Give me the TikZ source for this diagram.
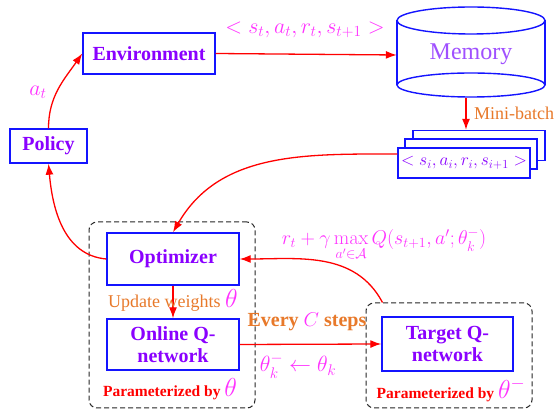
\RequirePackage{fix-cm}
\documentclass[tikz,border=0pt]{standalone}
\usepackage{amsmath}
\usepackage[no-math]{fontspec}
\setmainfont{Liberation Serif}
\usetikzlibrary{arrows.meta,calc}
\definecolor{boxblue}{RGB}{20,20,255}
\definecolor{txtpurple}{RGB}{138,0,255}
\definecolor{mempurple}{RGB}{160,80,255}
\definecolor{mag}{RGB}{255,50,255}
\definecolor{org}{RGB}{232,121,42}
\tikzset{
  blk/.style={draw=boxblue, line width=1.4pt, text=txtpurple, font=\fontsize{20}{22}\selectfont\bfseries, align=center, inner sep=0pt},
  stk/.style={draw=boxblue, fill=white, line width=1.4pt, minimum width=132pt, minimum height=30pt, inner sep=0pt},
  arr/.style={draw=red, line width=1.3pt, -{Latex[length=11pt,width=8pt]}},
  grp/.style={draw=black!85, dash pattern=on 5pt off 3pt, line width=1pt, rounded corners=8pt, inner sep=0pt},
  maglbl/.style={text=mag, inner sep=0pt},
}
\begin{document}
\begin{tikzpicture}[x=1pt,y=-1pt]
\useasboundingbox (0,0) rectangle (558,411);
\fill[white] (0,0) rectangle (558,411);

% group boxes
\node[grp, minimum width=166pt, minimum height=186pt] (g1) at (172,315) {};
\node[grp, minimum width=166pt, minimum height=105pt] (g2) at (449,355.5) {};

% main blocks
\node[blk, minimum width=132pt, minimum height=41pt] (env) at (149,53.5) {Environment};
\node[blk, minimum width=77pt, minimum height=34pt] (policy) at (48.5,146) {Policy};
\node[blk, minimum width=132pt, minimum height=52pt] (opt) at (173,259) {Optimizer};
\node[blk, minimum width=132pt, minimum height=51pt] (online) at (173,344.5) {Online Q-\\network};
\node[blk, minimum width=131pt, minimum height=54pt] (target) at (447.5,344) {Target Q-\\network};

% memory cylinder
\node[minimum width=148pt, minimum height=88pt, inner sep=0pt, text=mempurple, font=\fontsize{24}{26}\selectfont] (mem) at (471,54) {Memory};
\draw[boxblue, line width=1.4pt] (471,20.5) ellipse [x radius=74, y radius=13.5];
\draw[boxblue, line width=1.4pt] (471,85) ellipse [x radius=74, y radius=12];
\draw[boxblue, line width=1.4pt] (397,20.5) -- (397,85) (545,20.5) -- (545,85);

% mini-batch stack
\node[stk] (b3) at (479,145.5) {};
\node[stk] (b2) at (471,154) {};
\node[stk, text=txtpurple, font=\fontsize{17.5}{19}\selectfont] (b1) at (464,163) {$<s_i,a_i,r_i,s_{i+1}>$};

% arrows
\draw[arr] (env.east) -- ([yshift=-1pt]mem.west);
\draw[arr] ([xshift=-5pt]mem.south) -- ([xshift=-5pt]mem.south |- b3.north);
\draw[arr] ([yshift=9pt]b1.west) to[out=180,in=60] (opt.north);
\draw[arr] (opt.west) to[out=175,in=-85] (policy.south);
\draw[arr] (policy.north) to[out=90,in=235] (env.west);
\draw[arr] (opt.south) -- (online.north);
\draw[arr] (online.east) -- (target.west);
\coordinate (ts) at ([xshift=17pt]g2.north west);
\draw[arr] (ts) to[out=118,in=0] (opt.east);

% labels
\node[maglbl, font=\fontsize{22}{24}\selectfont] (ltop) at (305,30) {$<s_t,a_t,r_t,s_{t+1}>$};
\node[anchor=west, text=org, font=\fontsize{18}{20}\selectfont, inner sep=0pt] (mb) at (474,113) {Mini-batch};
\node[maglbl, font=\fontsize{22}{24}\selectfont] (lat) at (38,92) {$a_t$};
\node[maglbl, font=\fontsize{20}{22}\selectfont, anchor=base] (lbell) at (384,245) {$r_t+\gamma\max\limits_{a'\in\mathcal{A}}Q(s_{t+1},a';\theta_k^-)$};
\node[text=org, font=\fontsize{18}{20}\selectfont, inner sep=0pt] (lupd) at (173,300) {Update weights \textcolor{mag}{\fontsize{26}{28}\selectfont$\theta$}};
\node[text=red, font=\fontsize{15.5}{18}\selectfont\bfseries, inner sep=0pt] (lp1) at (170,389) {Parameterized by \textcolor{mag}{\fontsize{26}{28}\selectfont$\theta$}};
\node[text=red, font=\fontsize{15.5}{18}\selectfont\bfseries, inner sep=0pt] (lp2) at (451,390) {Parameterized by \textcolor{mag}{\fontsize{26}{28}\selectfont$\theta^-$}};
\node[text=org, font=\fontsize{20}{22}\selectfont\bfseries, inner sep=0pt] (lev) at (307,322) {Every \textcolor{mag}{$C$} steps};
\node[maglbl, font=\fontsize{22}{24}\selectfont] (lth) at (298,366) {$\theta_k^-\leftarrow\theta_k$};
\end{tikzpicture}
\end{document}
